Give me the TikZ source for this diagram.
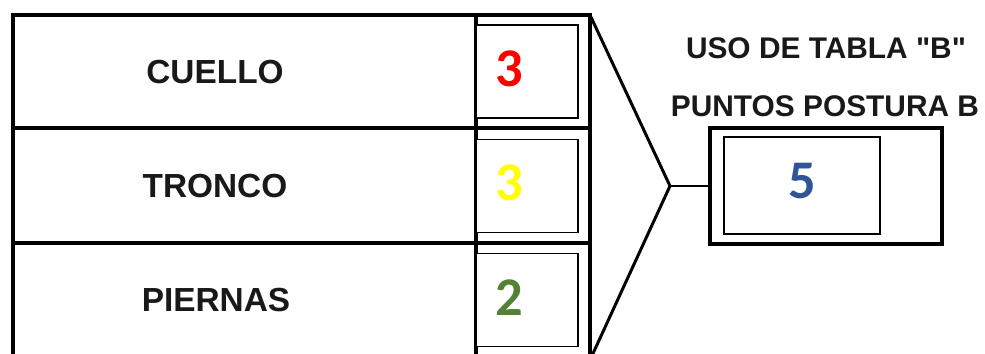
\documentclass[tikz,border=0pt]{standalone}
\usepackage{fontspec}
\setmainfont{Liberation Sans}
\newfontfamily\numfont{Carlito}
\usepackage{xcolor}
\definecolor{numred}{HTML}{FF0000}
\definecolor{numyellow}{HTML}{FFFF00}
\definecolor{numgreen}{HTML}{548235}
\definecolor{numblue}{HTML}{2F5597}
\begin{document}
\begin{tikzpicture}[x=0.02cm, y=-0.02cm,
  frame/.style={line width=2.2pt},
  numbox/.style={draw, line width=0.8pt, minimum width=2.04cm, minimum height=1.86cm, inner sep=0pt},
  label/.style={font=\fontsize{19}{22}\selectfont\bfseries, text=black!90},
  title/.style={font=\fontsize{17}{20}\selectfont\bfseries, text=black!90},
  num/.style={font=\fontsize{31}{35}\selectfont\numfont\bfseries}]
  \useasboundingbox (0,0) rectangle (985,354);
  \draw[frame] (13,360) -- (13,15) -- (590,15) -- (590,360);
  \draw[frame] (13,128) -- (590,128);
  \draw[frame] (13,243) -- (590,243);
  \draw[line width=1.8pt] (476,15) -- (476,360);
  \node[label] (cuello) at (215,72) {CUELLO};
  \node[label] (tronco) at (215,186) {TRONCO};
  \node[label] (piernas) at (216,300) {PIERNAS};
  \node[numbox, fill=white] (n1) at (527,71.5) {};
  \node[numbox, fill=white] (n2) at (527,186) {};
  \node[numbox, fill=white] (n3) at (527,300) {};
  \node[num, text=numred] at (509,69) {3};
  \node[num, text=numyellow] at (509,183) {3};
  \node[num, text=numgreen] at (509,298) {2};
  \coordinate (apex) at (670,186);
  \draw[line width=1.7pt] (590,15) -- (apex) -- (590,360);
  \node[draw, line width=2.2pt, minimum width=4.64cm, minimum height=2.32cm] (total) at (826,186) {};
  \node[numbox, minimum width=3.12cm, minimum height=1.94cm] (res) at (802,185.5) {};
  \node[num, text=numblue] at (802,181) {5};
  \draw[line width=1.7pt] (apex) -- (total.west);
  \node[title] (uso) at (826,48) {USO DE TABLA \textquotedbl B\textquotedbl};
  \node[title] (puntos) at (825,106) {PUNTOS POSTURA B};
\end{tikzpicture}
\end{document}
